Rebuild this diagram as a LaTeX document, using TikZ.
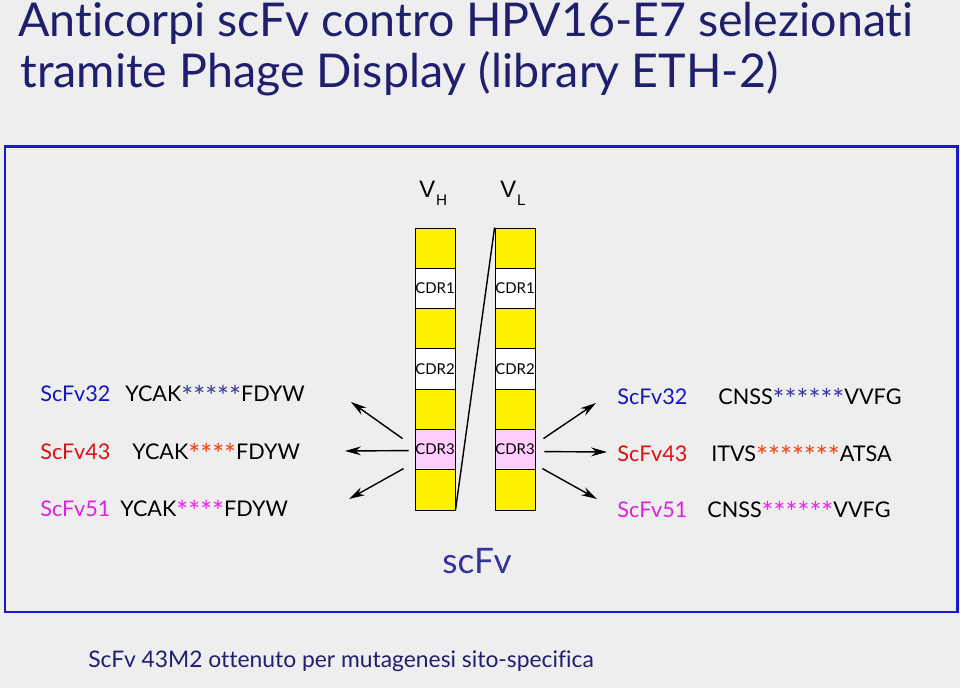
\documentclass[tikz,border=0pt]{standalone}
\usepackage{fontspec}
\setmainfont{Lato}[Ligatures=NoCommon]
\newfontfamily\arialfont{Liberation Sans}
\usetikzlibrary{arrows.meta}
\definecolor{bggray}{HTML}{EEEEEE}
\definecolor{frameblue}{HTML}{1A1ACC}
\definecolor{titlenavy}{HTML}{1F1F6E}
\definecolor{scfvblue}{HTML}{333399}
\definecolor{cdrpink}{HTML}{FFCCFF}
\definecolor{blue32}{HTML}{1515C0}
\definecolor{red43}{HTML}{E01010}
\definecolor{mag51}{HTML}{E020E0}
\definecolor{star32}{HTML}{3838A0}
\definecolor{star43}{HTML}{F04010}
\definecolor{star51}{HTML}{F020F0}
\newcommand{\stars}[2]{\raisebox{-2.6pt}{\textcolor{#1}{\fontsize{16}{16}\selectfont #2}}}
\begin{document}
\begin{tikzpicture}[x=0.02cm,y=-0.02cm,
    seg/.style={draw,line width=0.5pt,minimum width=0.8cm,minimum height=0.8058cm,inner sep=0pt,font=\fontsize{8.5}{8.5}\selectfont},
    lab/.style={anchor=base west,inner sep=0pt,font=\fontsize{12.3}{12.3}\selectfont},
    ptr/.style={-{Stealth[length=9pt,width=5pt]},line width=0.8pt}]
    \fill[bggray] (0,0) rectangle (960,688);
    \useasboundingbox (0,0) rectangle (960,688);
    % title
    \node[anchor=base west,inner sep=0pt,text=titlenavy,font=\fontsize{26.5}{26.5}\selectfont] (t1) at (18,37) {Anticorpi scFv contro HPV16-E7 selezionati};
    \node[anchor=base west,inner sep=0pt,text=titlenavy,font=\fontsize{26.5}{26.5}\selectfont] (t2) at (20,88) {tramite Phage Display (library ETH-2)};
    \draw[frameblue,line width=1.7pt] (5,147) rectangle (957,612);
    % V_H and V_L columns
    \node[anchor=base west,inner sep=0pt,font=\arialfont\fontsize{13.5}{14}\selectfont] (vh) at (419,198) {V\hspace{0.6pt}\raisebox{-4.5pt}{\fontsize{8.7}{9}\selectfont H}};
    \node[anchor=base west,inner sep=0pt,font=\arialfont\fontsize{13.5}{14}\selectfont] (vl) at (500,198) {V\hspace{0.6pt}\raisebox{-4.5pt}{\fontsize{8.7}{9}\selectfont L}};
    \foreach \i/\c/\t in {1/yellow/,2/white/CDR1,3/yellow/,4/white/CDR2,5/yellow/,6/cdrpink/CDR3,7/yellow/} {
        \node[seg,fill=\c] (h\i) at (435,{228+(\i-0.5)*40.29}) {\t};
        \node[seg,fill=\c] (l\i) at (515,{228+(\i-0.5)*40.29}) {\t};
    }
    \draw[line width=0.8pt] (h7.south east) -- (l1.north west);
    \node[anchor=base,inner sep=0pt,text=scfvblue,font=\fontsize{20}{20}\selectfont] (scfv) at (477,574) {scFv};
    % arrows out of CDR3
    \coordinate (la1) at (351,402);
    \coordinate (la2) at (345,451);
    \coordinate (la3) at (349,499);
    \coordinate (ra1) at (596,403);
    \coordinate (ra2) at (607,452);
    \coordinate (ra3) at (597,499);
    \draw[ptr] ([shift={(-12,-11)}]h6.west) -- (la1);
    \draw[ptr] ([shift={(-6,1)}]h6.west) -- (la2);
    \draw[ptr] ([shift={(-11,19)}]h6.west) -- (la3);
    \draw[ptr] ([shift={(8,-11)}]l6.east) -- (ra1);
    \draw[ptr] ([shift={(9,2)}]l6.east) -- (ra2);
    \draw[ptr] ([shift={(7,19)}]l6.east) -- (ra3);
    % sequences
    \node[lab,text=blue32] (n32) at (40,402) {ScFv32};
    \node[lab] (hs32) at (125,402) {YCAK\stars{star32}{*****}FDYW};
    \node[lab,text=red43] (n43) at (40,460) {ScFv43};
    \node[lab] (hs43) at (132,460) {YCAK\stars{star43}{****}FDYW};
    \node[lab,text=mag51] (n51) at (40,517) {ScFv51};
    \node[lab] (hs51) at (120,517) {YCAK\stars{star51}{****}FDYW};
    \node[lab,text=blue32] (m32) at (617,405) {ScFv32};
    \node[lab] (ls32) at (718,405) {CNSS\stars{star32}{******}VVFG};
    \node[lab,text=red43] (m43) at (617,462) {ScFv43};
    \node[lab] (ls43) at (711,462) {ITVS\stars{star43}{*******}ATSA};
    \node[lab,text=mag51] (m51) at (617,518) {ScFv51};
    \node[lab] (ls51) at (707,518) {CNSS\stars{star51}{******}VVFG};
    \node[anchor=base west,inner sep=0pt,text=titlenavy,font=\fontsize{13}{13}\selectfont] (note) at (88,667) {ScFv 43M2 ottenuto per mutagenesi sito-specifica};
\end{tikzpicture}
\end{document}
